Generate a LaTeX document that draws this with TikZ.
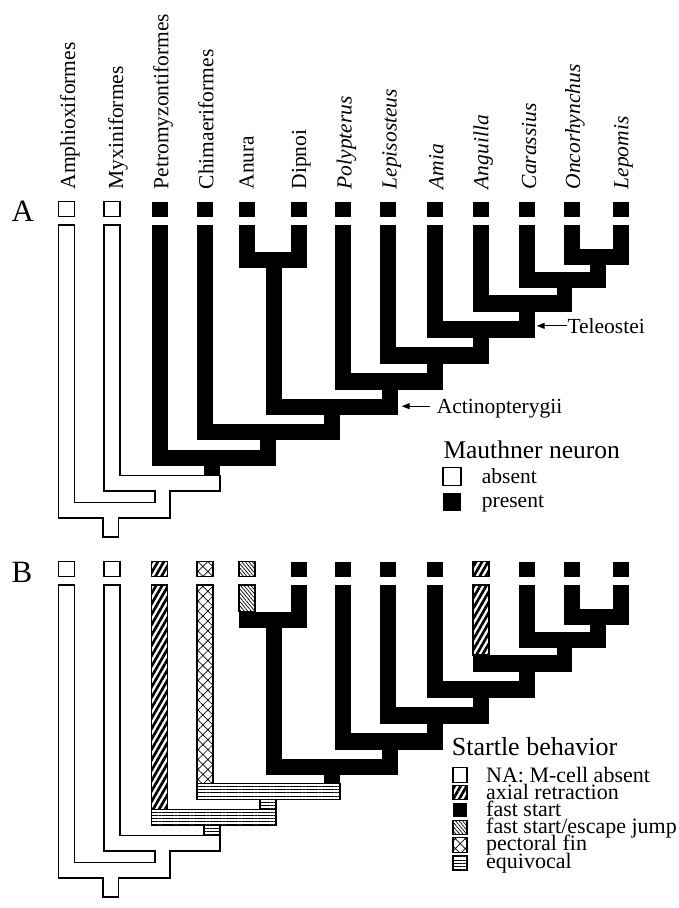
\documentclass[tikz,border=0pt]{standalone}
\usepackage{fontspec}
\setmainfont{Liberation Serif}
\usetikzlibrary{patterns.meta,arrows.meta}
\newcommand\fsz[1]{\fontsize{#1}{#1}\selectfont}

% Amphioxiformes and Myxiniformes branches with the root stem (open bands)
\newcommand\openbranches{%
  \draw[whitepart] (58.5,225) -- (74.5,225) -- (74.5,502.5) -- (155,502.5) -- (155,491)
     -- (104,491) -- (104,225) -- (120,225) -- (120,475.5) -- (220,475.5) -- (220,491)
     -- (170,491) -- (170,518) -- (118.5,518) -- (118.5,537) -- (103,537) -- (103,518)
     -- (58.5,518) -- cycle;
  \draw[whitepart] (58.5,201.5) rectangle (74.5,216.5);
  \draw[whitepart] (104,201.5) rectangle (120,216.5);
}

% Bands that are solid in both trees
\newcommand\solidbranches{%
  % Anura + Dipnoi
  \fill[blackpart] (291,225) rectangle (307,251.5);
  \fill[blackpart] (239,251.5) rectangle (307,268);
  \fill[blackpart] (265.5,268) rectangle (281.5,398.5);
  \fill[blackpart] (265.5,398.5) rectangle (397.5,414.5);
  \fill[blackpart] (324,414.5) rectangle (340,423.5);
  % Actinopterygii
  \fill[blackpart] (334.5,225) rectangle (350.5,372.5);
  \fill[blackpart] (334.5,372.5) rectangle (442.5,389.5);
  \fill[blackpart] (381.5,389.5) rectangle (397.5,398.5);
  \fill[blackpart] (380,225) rectangle (396,346.5);
  \fill[blackpart] (380,346.5) rectangle (489,363.5);
  \fill[blackpart] (426.5,363.5) rectangle (442.5,372.5);
  \fill[blackpart] (426.5,225) rectangle (442.5,320.5);
  \fill[blackpart] (426.5,320.5) rectangle (534.5,337.5);
  \fill[blackpart] (473,337.5) rectangle (489,346.5);
  % Teleostei
  \fill[blackpart] (473,295) rectangle (572,311.5);
  \fill[blackpart] (518.5,311.5) rectangle (534.5,320.5);
  \fill[blackpart] (518.5,225) rectangle (534.5,271.5);
  \fill[blackpart] (518.5,271.5) rectangle (605.5,288);
  \fill[blackpart] (556.5,288) rectangle (572,295);
  \fill[blackpart] (563.5,225) rectangle (579.5,248.5);
  \fill[blackpart] (613,225) rectangle (629,248.5);
  \fill[blackpart] (563.5,248.5) rectangle (629,265);
  \fill[blackpart] (589.5,265) rectangle (605.5,271.5);
  % tip squares
  \fill[blackpart] (291,201.5) rectangle (307,216.5);
  \fill[blackpart] (334.5,201.5) rectangle (350.5,216.5);
  \fill[blackpart] (380,201.5) rectangle (396,216.5);
  \fill[blackpart] (426.5,201.5) rectangle (442.5,216.5);
  \fill[blackpart] (518.5,201.5) rectangle (534.5,216.5);
  \fill[blackpart] (563.5,201.5) rectangle (579.5,216.5);
  \fill[blackpart] (613,201.5) rectangle (629,216.5);
}

\begin{document}
\begin{tikzpicture}[x=1pt,y=-1pt,
  outl/.style={draw=black,line width=1.3pt},
  whitepart/.style={outl,fill=white},
  blackpart/.style={fill=black},
  axialfill/.style={outl,pattern={Lines[angle=60,distance=5.2pt,line width=2.7pt]}},
  escapefill/.style={outl,pattern={Lines[angle=-50,distance=2.7pt,line width=0.7pt]}},
  pectoralfill/.style={outl,pattern={Hatch[angle=45,distance=7pt,line width=0.7pt]}},
  equivfill/.style={outl,pattern={Lines[angle=0,distance=3.2pt,line width=0.9pt]}},
  taxlab/.style={rotate=90,anchor=base west,inner sep=0pt,font=\fsz{21.5}},
  panellab/.style={anchor=base west,inner sep=0pt,font=\fsz{31}},
  legtitle/.style={anchor=base west,inner sep=0pt,font=\fsz{25.5}},
  legitem/.style={anchor=base west,inner sep=0pt,font=\fsz{21.5}},
  legitemb/.style={anchor=base west,inner sep=0pt,font=\fsz{22}},
  swatch/.style={line width=1.5pt,minimum width=18pt,minimum height=18pt,inner sep=0pt},
  swatchb/.style={line width=1.4pt,minimum width=14pt,minimum height=14.5pt,inner sep=0pt},
  cladelab/.style={anchor=base west,inner sep=0pt,text depth=0pt,font=\fsz{21.5}},
  pointer/.style={line width=1.2pt,-{Triangle[length=8pt,width=6pt]}}]

\useasboundingbox (0,0) rectangle (679,908);
\fill[white] (0,0) rectangle (679,908);

% taxon names
\node[taxlab] (tAmph) at (75,189.5) {Amphioxiformes};
\node[taxlab] (tMyx) at (123,189.5) {Myxiniformes};
\node[taxlab] (tPetr) at (168.3,189.5) {Petromyzontiformes};
\node[taxlab] (tChim) at (213.3,189.5) {Chimaeriformes};
\node[taxlab] (tAnur) at (253.5,189.5) {Anura};
\node[taxlab] (tDipn) at (306,189.5) {Dipnoi};
\node[taxlab] (tPoly) at (351.5,189.5) {\itshape Polypterus};
\node[taxlab] (tLepi) at (396.5,189.5) {\itshape Lepisosteus};
\node[taxlab] (tAmia) at (443.3,189.5) {\itshape Amia};
\node[taxlab] (tAngu) at (488.3,189.5) {\itshape Anguilla};
\node[taxlab] (tCara) at (536,189.5) {\itshape Carassius};
\node[taxlab] (tOnco) at (580,189.5) {\itshape Oncorhynchus};
\node[taxlab] (tLepo) at (628.3,189.5) {\itshape Lepomis};

% ---------- tree A: Mauthner neuron ----------
\node[panellab] (panA) at (11.5,221.5) {A};
\openbranches
\solidbranches
\fill[blackpart] (239,225) rectangle (255,251.5);
\fill[blackpart] (473,225) rectangle (489,295);
\fill[blackpart] (197,225) rectangle (213,423.5);
\fill[blackpart] (197,423.5) rectangle (340,439.5);
\fill[blackpart] (260,439.5) rectangle (276,449.5);
\fill[blackpart] (151.5,225) rectangle (167.5,449.5);
\fill[blackpart] (151.5,449.5) rectangle (276,465.5);
\fill[blackpart] (204,465.5) rectangle (220,475.5);
\fill[blackpart] (151.5,201.5) rectangle (167.5,216.5);
\fill[blackpart] (197,201.5) rectangle (213,216.5);
\fill[blackpart] (239,201.5) rectangle (255,216.5);
\fill[blackpart] (473,201.5) rectangle (489,216.5);

% clade pointers
\node[cladelab] (teleo) at (567.3,333.3) {Teleostei};
\path (teleo.west) ++(-30.6,0) coordinate (teleoTip);
\draw[pointer,shorten <=0.5pt] (teleo.west) -- (teleoTip);
\node[cladelab] (actino) at (436.7,413.3) {Actinopterygii};
\path (actino.west) ++(-35,0) coordinate (actinoTip);
\draw[pointer,shorten <=6.5pt] (actino.west) -- (actinoTip);

% legend A
\node[legtitle] (mauTitle) at (443.3,458.3) {Mauthner neuron};
\node[swatch,draw,fill=white] (mauAbs) at (452,476.5) {};
\node[swatch,fill=black] (mauPres) at (452,501.5) {};
\node[legitem] (mauAbsT) at (481.7,483.3) {absent};
\node[legitem] (mauPresT) at (481.7,507.5) {present};

% ---------- tree B: startle behaviour ----------
\node[panellab] (panB) at (11.5,582.5) {B};
\begin{scope}[yshift=-360pt]
  \openbranches
  \solidbranches
  \draw[escapefill] (239,225) rectangle (255,251.5);
  \draw[axialfill] (473,225) rectangle (489,295);
  \draw[pectoralfill] (197,225) rectangle (213,423.5);
  \draw[axialfill] (151.5,225) rectangle (167.5,449.5);
  \draw[equivfill] (197,423.5) rectangle (340,439.5);
  \draw[equivfill] (151.5,449.5) rectangle (276,465.5);
  \draw[equivfill] (260,439.5) rectangle (276,449.5);
  \draw[equivfill] (204,465.5) rectangle (220,475.5);
  \draw[axialfill] (151.5,201.5) rectangle (167.5,216.5);
  \draw[pectoralfill] (197,201.5) rectangle (213,216.5);
  \draw[escapefill] (239,201.5) rectangle (255,216.5);
  \draw[axialfill] (473,201.5) rectangle (489,216.5);
\end{scope}

% legend B
\node[legtitle,font=\fsz{26}] (stTitle) at (451.7,755.5) {Startle behavior};
\node[swatchb,draw,fill=white] (swNA) at (460,775) {};
\node[swatchb,axialfill] (swAx) at (460,792.5) {};
\node[swatchb,fill=black] (swFast) at (460,810) {};
\node[swatchb,escapefill] (swJump) at (460,827.5) {};
\node[swatchb,pectoralfill] (swPect) at (460,845) {};
\node[swatchb,equivfill] (swEq) at (460,863) {};
\node[legitemb] (txNA) at (486,782) {NA: M-cell absent};
\node[legitemb] (txAx) at (486,799) {axial retraction};
\node[legitemb] (txFast) at (486,816.5) {fast start};
\node[legitemb] (txJump) at (486,833.5) {fast start/escape jump};
\node[legitemb] (txPect) at (486,850.5) {pectoral fin};
\node[legitemb] (txEq) at (486,868) {equivocal};
\end{tikzpicture}
\end{document}
